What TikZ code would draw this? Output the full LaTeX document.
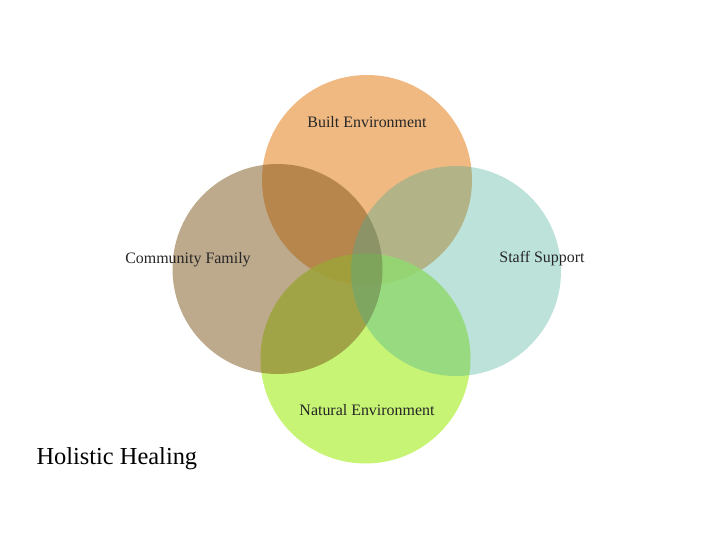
\documentclass[tikz,border=0pt]{standalone}
\usepackage{fontspec}
\setmainfont{Liberation Serif}
\definecolor{builtc}{RGB}{240,185,130}
\definecolor{commc}{RGB}{125,85,25}
\definecolor{staffc}{RGB}{64,172,149}
\definecolor{natc}{RGB}{190,243,92}
\begin{document}
\begin{tikzpicture}[x=1bp,y=-1bp,
  venn/.style={circle,minimum size=210bp,inner sep=0pt,draw=none},
  lbl/.style={font=\fontsize{16}{18}\selectfont,text=black!85}]
\useasboundingbox (0,0) rectangle (720,540);
\fill[white] (0,0) rectangle (720,540);
\node[venn,fill=builtc] (built) at (367,180) {};
\node[venn,fill=natc,fill opacity=0.85] (nat) at (365.5,358.5) {};
\node[venn,fill=commc,fill opacity=0.5] (comm) at (277.5,269) {};
\node[venn,fill=staffc,fill opacity=0.35] (staff) at (456,271) {};
\node[lbl] (tb) at (367,122) {Built Environment};
\node[lbl] (tc) at (188,260) {Community Family};
\node[lbl] (ts) at (542,259) {Staff Support};
\node[lbl] (tn) at (367,410) {Natural Environment};
\node[font=\fontsize{24.5}{28}\selectfont,anchor=west] (title) at (33,459) {Holistic Healing};
\end{tikzpicture}
\end{document}
